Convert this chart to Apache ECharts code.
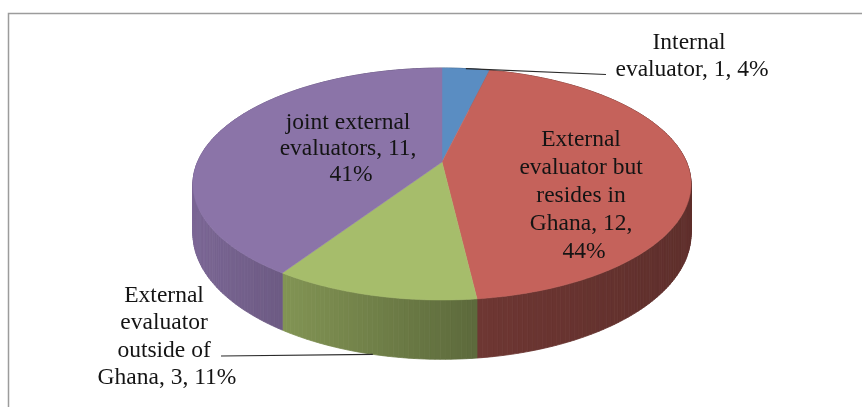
<!DOCTYPE html>
<html>
<head>
<meta charset="utf-8">
<script src="https://cdn.jsdelivr.net/npm/echarts@6/dist/echarts.min.js"></script>
<style>
html,body{margin:0;padding:0;background:#fff;}
#chart{width:862px;height:407px;}
</style>
</head>
<body>
<div id="chart"></div>
<script>
// ---- data ----
const categories = ['Internal evaluator', 'External evaluator but resides in Ghana', 'External evaluator outside of Ghana', 'joint external evaluators'];
const counts = [1, 12, 3, 11];

// ---- style / layout ----
const topColors = ['#5A8DC2', '#C5625B', '#A6BD6B', '#8B74A8'];
const GEO = { cx: 442, cy: 162, rx: 244.5, ry: 111.8, k: 0.19, h: 48 };
const LABELS = [
  { x: 692, y: 56.5, w: 160, lh: 27, lineEnd: [606, 74.5], drop: 0 },
  { x: 584, y: 196, w: 135, lh: 28 },
  { x: 167, y: 337, w: 145, lh: 27.5, lineEnd: [221, 356], drop: 48 },
  { x: 351, y: 149, w: 145, lh: 26 }
];
const SHADE = [[180, 0.9], [285, 0.78], [475, 0.56], [720, 0.47]];

function shadeAt(x) {
  if (x <= SHADE[0][0]) return SHADE[0][1];
  for (let i = 1; i < SHADE.length; i++) {
    if (x <= SHADE[i][0]) {
      const t = (x - SHADE[i-1][0]) / (SHADE[i][0] - SHADE[i-1][0]);
      return SHADE[i-1][1] + t * (SHADE[i][1] - SHADE[i-1][1]);
    }
  }
  return SHADE[SHADE.length-1][1];
}
function scaleColor(hex, f) {
  const n = parseInt(hex.slice(1), 16);
  const r = Math.round(((n >> 16) & 255) * f), g = Math.round(((n >> 8) & 255) * f), b = Math.round((n & 255) * f);
  return 'rgb(' + r + ',' + g + ',' + b + ')';
}
function project(theta, drop) {
  const u = Math.sin(theta), v = -Math.cos(theta);
  const s = 1 / (1 - GEO.k * v);
  return [GEO.cx + GEO.rx * u * s, GEO.cy + GEO.ry * v * s + (drop || 0) * s];
}

const total = counts.reduce((a, b) => a + b, 0);
const startShare = [];
counts.reduce((acc, v, i) => { startShare[i] = acc; return acc + v; }, 0);

const chart = echarts.init(document.getElementById('chart'));
chart.setOption({
  animation: false,
  backgroundColor: '#ffffff',
  graphic: [{
    type: 'rect',
    shape: { x: 8.5, y: 13.5, width: 900, height: 500 },
    style: { fill: 'none', stroke: '#9c9c9c', lineWidth: 1.5 },
    z: -1
  }],
  series: [{
    type: 'custom',
    coordinateSystem: 'none',
    data: counts.map((v, i) => ({ value: v, name: categories[i] })),
    renderItem: function (params, api) {
      const i = params.dataIndex;
      const val = api.value(0);
      const a0 = startShare[i] / total * Math.PI * 2;
      const a1 = (startShare[i] + val) / total * Math.PI * 2;
      const steps = Math.max(2, Math.ceil((a1 - a0) / (Math.PI / 180)));
      const children = [];
      // side faces
      for (let s = 0; s < steps; s++) {
        const t0 = a0 + (a1 - a0) * s / steps;
        const t1 = a0 + (a1 - a0) * (s + 1) / steps;
        const p0 = project(t0, 0), p1 = project(t1, 0);
        const q1 = project(t1, GEO.h), q0 = project(t0, GEO.h);
        const col = scaleColor(topColors[i], shadeAt((p0[0] + p1[0]) / 2));
        children.push({
          type: 'polygon', z2: 1,
          shape: { points: [p0, p1, q1, q0] },
          style: { fill: col, stroke: col, lineWidth: 0.8 }
        });
      }
      // top face
      const pts = [[GEO.cx, GEO.cy]];
      for (let s = 0; s <= steps; s++) pts.push(project(a0 + (a1 - a0) * s / steps, 0));
      children.push({
        type: 'polygon', z2: 10,
        shape: { points: pts },
        style: { fill: topColors[i], stroke: topColors[i], lineWidth: 0.5 }
      });
      // label
      const L = LABELS[i];
      const pct = Math.round(val / total * 100);
      if (L.lineEnd) {
        const mid = (a0 + a1) / 2;
        const p = project(mid, L.drop);
        children.push({
          type: 'line', z2: 20,
          shape: { x1: p[0], y1: p[1], x2: L.lineEnd[0], y2: L.lineEnd[1] },
          style: { stroke: '#2a2a2a', lineWidth: 1.2 }
        });
      }
      children.push({
        type: 'text', z2: 30,
        x: L.x, y: L.y,
        style: {
          text: categories[i] + ', ' + val + ', ' + pct + '%',
          width: L.w, overflow: 'break',
          fontFamily: '"Liberation Serif", "Times New Roman", serif',
          fontSize: 23.5,
          fill: '#141414', align: 'center', verticalAlign: 'middle',
          lineHeight: L.lh
        }
      });
      return { type: 'group', children: children };
    }
  }]
});
</script>
</body>
</html>
